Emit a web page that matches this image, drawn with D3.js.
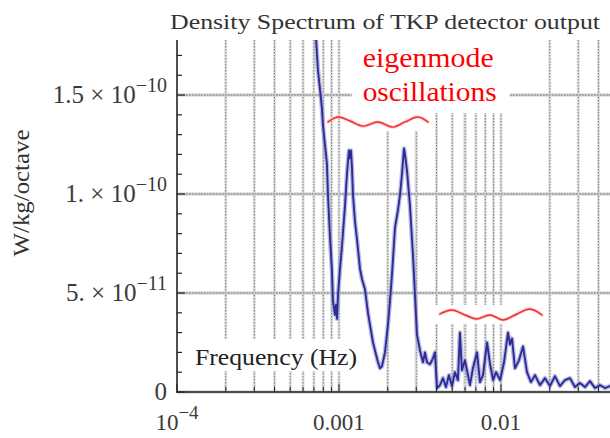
<!DOCTYPE html>
<html><head><meta charset="utf-8">
<script src="https://cdn.jsdelivr.net/npm/d3@7"></script>
<style>
html,body{margin:0;padding:0;background:#fff;}
svg{display:block;}
text{font-family:"Liberation Serif","Times New Roman",serif;}
</style>
</head><body>
<svg id="c" width="610" height="438"></svg>
<script>
// ---------------- data ----------------
const freq = [7.02e-4,7.21e-4,7.41e-4,7.63e-4,7.85e-4,7.96e-4,8.19e-4,8.43e-4,8.55e-4,8.80e-4,
  9.05e-4,9.18e-4,9.44e-4,9.58e-4,9.72e-4,9.86e-4,1.014e-3,1.044e-3,1.089e-3,1.120e-3,
  1.137e-3,1.153e-3,1.169e-3,1.186e-3,1.203e-3,1.220e-3,1.256e-3,1.292e-3,1.349e-3,1.387e-3,
  1.446e-3,1.510e-3,1.553e-3,1.621e-3,1.691e-3,1.742e-3,1.791e-3,1.842e-3,1.923e-3,2.006e-3,
  2.065e-3,2.123e-3,2.217e-3,2.313e-3,2.380e-3,2.449e-3,2.519e-3,2.555e-3,2.628e-3,2.743e-3,
  2.862e-3,2.945e-3,3.030e-3,3.162e-3,3.300e-3,3.395e-3,3.493e-3,3.645e-3,3.803e-3,3.913e-3,
  4.026e-3,4.201e-3,4.384e-3,4.574e-3,4.773e-3,4.981e-3,5.198e-3,5.424e-3,5.580e-3,5.741e-3,
  5.991e-3,6.252e-3,6.432e-3,6.711e-3,7.112e-3,7.422e-3,7.745e-3,8.207e-3,8.564e-3,8.937e-3,
  9.326e-3,9.884e-3,1.044e-2,1.105e-2,1.137e-2,1.170e-2,1.220e-2,1.292e-2,1.368e-2,1.447e-2,
  1.532e-2,1.622e-2,1.741e-2,1.870e-2,2.006e-2,2.154e-2,2.313e-2,2.483e-2,2.666e-2,2.862e-2,
  3.073e-2,3.300e-2,3.543e-2,3.803e-2,4.083e-2,4.384e-2,4.707e-2,5.05e-2];
const power = [19.0e-11,17.9e-11,16.3e-11,15.3e-11,14.3e-11,13.5e-11,12.5e-11,11.5e-11,9.95e-11,7.8e-11,
  6.1e-11,4.6e-11,3.9e-11,4.4e-11,3.7e-11,4.9e-11,6.2e-11,7.4e-11,9.4e-11,11.0e-11,
  11.7e-11,12.2e-11,11.8e-11,12.2e-11,11.3e-11,9.95e-11,8.6e-11,7.7e-11,6.2e-11,5.7e-11,
  5.2e-11,4.0e-11,3.4e-11,2.5e-11,1.9e-11,1.5e-11,1.2e-11,1.3e-11,2.0e-11,3.4e-11,
  4.6e-11,5.9e-11,8.3e-11,9.2e-11,9.95e-11,11.0e-11,12.3e-11,12.0e-11,11.2e-11,9.4e-11,
  6.9e-11,4.9e-11,2.9e-11,2.1e-11,1.5e-11,2.0e-11,1.5e-11,1.4e-11,1.7e-11,2.0e-11,
  0.2e-11,0.35e-11,0.7e-11,0.25e-11,0.85e-11,0.3e-11,1.0e-11,0.6e-11,3.0e-11,1.1e-11,
  1.6e-11,0.85e-11,0.35e-11,1.2e-11,2.0e-11,0.5e-11,0.85e-11,2.5e-11,1.4e-11,0.6e-11,
  1.0e-11,0.6e-11,1.5e-11,3.0e-11,2.4e-11,2.7e-11,1.2e-11,1.6e-11,2.3e-11,1.0e-11,
  0.5e-11,0.85e-11,0.35e-11,0.7e-11,0.3e-11,0.8e-11,0.3e-11,0.6e-11,0.7e-11,0.25e-11,
  0.45e-11,0.25e-11,0.55e-11,0.2e-11,0.35e-11,0.2e-11,0.3e-11,0.4e-11];

const yTickValues = [0, 5e-11, 1e-10, 1.5e-10];
const yTickBase   = ["0", "5. \u00d7 10", "1. \u00d7 10", "1.5 \u00d7 10"];
const yTickExp    = ["", "\u221211", "\u221210", "\u221210"];
const xTickValues = [1e-4, 1e-3, 1e-2];
const xTickBase   = ["10", "0.001", "0.01"];
const xTickExp    = ["\u22124", "", ""];

const titleText = "Density Spectrum of TKP detector output";
const xTitleText = "Frequency (Hz)";
const yTitleText = "W/kg/octave";
const noteLines = ["eigenmode", "oscillations"];

// annotation squiggles (data coordinates)
const brace1Freq = [8.55e-4,9.86e-4,1.169e-3,1.406e-3,1.742e-3,2.154e-3,2.555e-3,3.073e-3,3.542e-3];
const brace1Val  = [13.64e-11,13.89e-11,13.69e-11,13.43e-11,13.64e-11,13.38e-11,13.64e-11,13.89e-11,13.64e-11];
const brace2Freq = [4.201e-3,4.981e-3,5.991e-3,7.112e-3,8.564e-3,1.029e-2,1.256e-2,1.510e-2,1.791e-2];
const brace2Val  = [3.94e-11,4.14e-11,3.89e-11,3.69e-11,3.89e-11,3.64e-11,3.94e-11,4.19e-11,3.89e-11];

// ---------------- layout ----------------
const L = 177, R = 610, T = 40, B = 392;
const svg = d3.select("#c");

const x = d3.scaleLog().domain([1e-4, 0.0471]).range([L, R]);
const y = d3.scaleLinear().domain([0, 1.778e-10]).range([B, T]);

svg.append("defs").append("clipPath").attr("id","clip")
  .append("rect").attr("x",L).attr("y",T).attr("width",R-L).attr("height",B-T);

// ---------------- grid ----------------
const grid = svg.append("g");
const xg = x.ticks().filter(v => v > 1.0001e-4 && v < 0.0471);
const bandSet = [4e-4, 3e-3, 6e-3];
grid.selectAll("line.band").data(xg.filter(v => bandSet.some(b => Math.abs(v-b)/b < 1e-6)))
  .join("line").attr("x1",d=>x(d)).attr("x2",d=>x(d)).attr("y1",T).attr("y2",B)
  .attr("stroke","#d4d4d4").attr("stroke-width",3);
grid.selectAll("line.vh").data(xg).join("line")
  .attr("x1",d=>x(d)).attr("x2",d=>x(d)).attr("y1",T).attr("y2",B)
  .attr("stroke","#e2e2e2").attr("stroke-width",3);
grid.selectAll("line.vg").data(xg).join("line")
  .attr("x1",d=>x(d)).attr("x2",d=>x(d)).attr("y1",T).attr("y2",B)
  .attr("stroke","#7a7a7a").attr("stroke-width",1).attr("stroke-dasharray","1.5,1.5");
const hg = yTickValues.filter(v => v > 0);
grid.selectAll("line.hb").data(hg).join("line")
  .attr("x1",L).attr("x2",R).attr("y1",d=>y(d)).attr("y2",d=>y(d))
  .attr("stroke","#cacaca").attr("stroke-width",3);
grid.selectAll("line.hg").data(hg).join("line")
  .attr("x1",L).attr("x2",R).attr("y1",d=>y(d)).attr("y2",d=>y(d))
  .attr("stroke","#7a7a7a").attr("stroke-width",1).attr("stroke-dasharray","1.5,1.5");
grid.append("line").attr("x1",L).attr("x2",R).attr("y1",y(0)).attr("y2",y(0))
  .attr("stroke","#cacaca").attr("stroke-width",3);

// ---------------- data line ----------------
const pts = freq.map((f,i)=>[f, power[i]]);
const line = d3.line().x(d=>x(d[0])).y(d=>y(d[1]));
const plot = svg.append("g").attr("clip-path","url(#clip)");
plot.append("path").datum(pts).attr("d",line).attr("fill","none")
  .attr("stroke","#8d8dd4").attr("stroke-width",4.5).attr("stroke-opacity",0.6).attr("stroke-linejoin","round");
plot.append("path").datum(pts).attr("d",line).attr("fill","none")
  .attr("stroke","#2c2c94").attr("stroke-width",1.9).attr("stroke-linejoin","round");

// ---------------- annotations ----------------
const ann = svg.append("g");
function whiteBox(x0,y0,x1,y1){
  ann.append("rect").attr("x",x0).attr("y",y0).attr("width",x1-x0).attr("height",y1-y0).attr("fill","#fff");
}
const noteX = x(1.40e-3), noteY1 = 67, noteY2 = 101;
whiteBox(noteX-11, T, noteX+147, 113);
const b1 = d3.line().x((d,i)=>x(brace1Freq[i])).y((d,i)=>y(brace1Val[i])).curve(d3.curveCatmullRom);
const b2 = d3.line().x((d,i)=>x(brace2Freq[i])).y((d,i)=>y(brace2Val[i])).curve(d3.curveCatmullRom);
whiteBox(x(brace1Freq[0])+17, 113, x(brace1Freq[8])+4, 131);
whiteBox(x(brace2Freq[0])-5, y(4.4e-11), x(brace2Freq[8])+4, y(3.45e-11));
whiteBox(190, 339, 362, 371);

[b1(brace1Freq), b2(brace2Freq)].forEach(d=>{
  ann.append("path").attr("d",d).attr("fill","none").attr("stroke","#ffb8b8").attr("stroke-width",3).attr("stroke-linecap","round");
  ann.append("path").attr("d",d).attr("fill","none").attr("stroke","#f03030").attr("stroke-width",1.4).attr("stroke-linecap","round");
});

ann.append("text").attr("x",noteX).attr("y",noteY1).attr("fill","#f00").attr("font-size",28)
  .attr("textLength",131).attr("lengthAdjust","spacingAndGlyphs").text(noteLines[0]);
ann.append("text").attr("x",noteX).attr("y",noteY2).attr("fill","#f00").attr("font-size",28)
  .attr("textLength",134).attr("lengthAdjust","spacingAndGlyphs").text(noteLines[1]);

ann.append("text").attr("x",195).attr("y",365).attr("fill","#222").attr("font-size",23)
  .attr("textLength",162).attr("lengthAdjust","spacingAndGlyphs").text(xTitleText);

// ---------------- axes ----------------
const ax = svg.append("g").attr("stroke","#222");
ax.append("line").attr("x1",L).attr("x2",L).attr("y1",T).attr("y2",B+1).attr("stroke-width",1.6);
ax.append("line").attr("x1",L).attr("x2",R).attr("y1",B).attr("y2",B).attr("stroke-width",1.4);
const yMinor = d3.range(0, 18).map(i => i*1e-11);
ax.selectAll("line.ym").data(yMinor).join("line")
  .attr("x1",L).attr("x2",d => yTickValues.some(v=>Math.abs(v-d)<1e-13) ? L+8 : L+5)
  .attr("y1",d=>y(d)).attr("y2",d=>y(d)).attr("stroke-width",1.2);
ax.selectAll("line.xm").data(x.ticks().filter(v=>v<0.0471)).join("line")
  .attr("x1",d=>x(d)).attr("x2",d=>x(d)).attr("y1",B).attr("y2",d => xTickValues.includes(d) ? B-8 : B-5)
  .attr("stroke-width",1);

// y tick labels
yTickValues.forEach((v,i)=>{
  const t = svg.append("text").attr("x",167).attr("y",y(v)+8).attr("text-anchor","end")
    .attr("fill","#3a3a3a").attr("font-size",25);
  t.append("tspan").text(yTickBase[i]);
  if (yTickExp[i]) t.append("tspan").attr("dy",-11).attr("font-size",20).text(yTickExp[i]);
});
// x tick labels
xTickValues.forEach((v,i)=>{
  const t = svg.append("text").attr("x",x(v)).attr("y",430).attr("text-anchor","middle")
    .attr("fill","#3a3a3a").attr("font-size",23);
  t.append("tspan").text(xTickBase[i]);
  if (xTickExp[i]) t.append("tspan").attr("dy",-11).attr("font-size",19).text(xTickExp[i]);
});

// titles
svg.append("text").attr("x",170).attr("y",29).attr("fill","#333").attr("font-size",22)
  .attr("textLength",430).attr("lengthAdjust","spacingAndGlyphs").text(titleText);
svg.append("text").attr("transform","translate(29,193) rotate(-90)").attr("text-anchor","middle")
  .attr("fill","#333").attr("font-size",23)
  .attr("textLength",127).attr("lengthAdjust","spacingAndGlyphs").text(yTitleText);
</script>
</body></html>
